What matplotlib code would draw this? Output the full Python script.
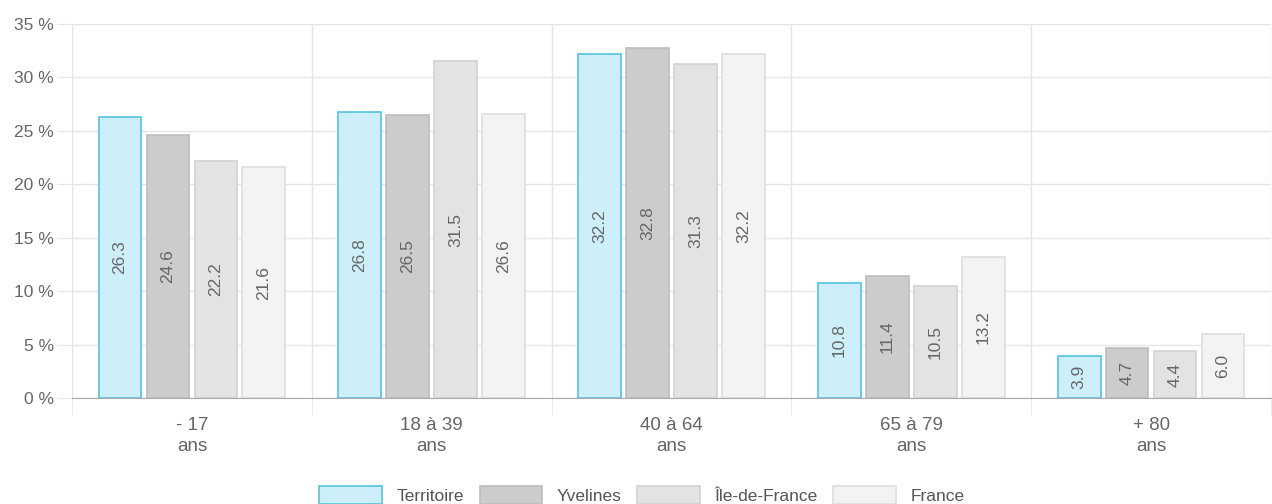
import matplotlib.pyplot as plt
from matplotlib.patches import Patch
import numpy as np

# Age groups and share of population (%) per area
categories = ["- 17\nans", "18 à 39\nans", "40 à 64\nans", "65 à 79\nans", "+ 80\nans"]
series_names = ["Territoire", "Yvelines", "Île-de-France", "France"]
territoire = [26.3, 26.8, 32.2, 10.8, 3.9]
yvelines = [24.6, 26.5, 32.8, 11.4, 4.7]
idf = [22.2, 31.5, 31.3, 10.5, 4.4]
france = [21.6, 26.6, 32.2, 13.2, 6.0]
yticks = [0, 5, 10, 15, 20, 25, 30, 35]

faces = ["#cdeffa", "#cccccc", "#e3e3e3", "#f3f3f3"]
edges = ["#55c3e0", "#bdbdbd", "#d2d2d2", "#dedede"]
offsets = [-0.3, -0.1, 0.1, 0.3]
width = 0.178
FS = 12.5

plt.rcParams["font.family"] = ["Liberation Sans", "DejaVu Sans"]

fig = plt.figure(figsize=(12.72, 5.04), dpi=100)
ax = fig.add_axes([72 / 1272, 106 / 504, 1199 / 1272, 374 / 504])

x = np.arange(len(categories))
for vals, off, fc, ec in zip([territoire, yvelines, idf, france], offsets, faces, edges):
    bars = ax.bar(x + off, vals, width=width, color=fc, edgecolor=ec, linewidth=1.2, zorder=3)
    for b, v in zip(bars, vals):
        ax.text(b.get_x() + b.get_width() / 2, v / 2, f"{v:.1f}", rotation=90,
                ha="center", va="center", fontsize=FS, color="#666666", zorder=4)

ax.set_xlim(-0.5, len(categories) - 0.5)
ax.set_ylim(0, 35)
ax.set_yticks(yticks)
ax.set_yticklabels([f"{t} %" for t in yticks], fontsize=FS, color="#666666")
ax.yaxis.grid(True, color="#e6e6e6", linewidth=1, zorder=0)
ax.tick_params(axis="y", length=11, color="#e6e6e6", pad=2)

# category labels on centres, separators on group boundaries
ax.set_xticks(x)
ax.set_xticklabels(categories, fontsize=13.5, color="#666666", linespacing=1.3)
ax.tick_params(axis="x", length=0, pad=14)
ax.set_xticks(np.arange(-0.5, len(categories)), minor=True)
ax.xaxis.grid(True, which="minor", color="#e6e6e6", linewidth=1, zorder=0)
ax.tick_params(axis="x", which="minor", length=12, color="#e6e6e6")

for s in ["top", "right", "left"]:
    ax.spines[s].set_visible(False)
ax.spines["bottom"].set_color("#aaaaaa")
ax.spines["bottom"].set_zorder(5)

handles = [Patch(facecolor=fc, edgecolor=ec, linewidth=1.2) for fc, ec in zip(faces, edges)]
fig.legend(handles, series_names, loc="center", bbox_to_anchor=(642 / 1272, 9 / 504),
           ncol=4, frameon=False, fontsize=FS, labelcolor="#555555",
           handlelength=3.6, handleheight=1.2, handletextpad=0.85, columnspacing=0.9,
           borderpad=0, borderaxespad=0)

fig.savefig("out.png", dpi=100, facecolor="white")
